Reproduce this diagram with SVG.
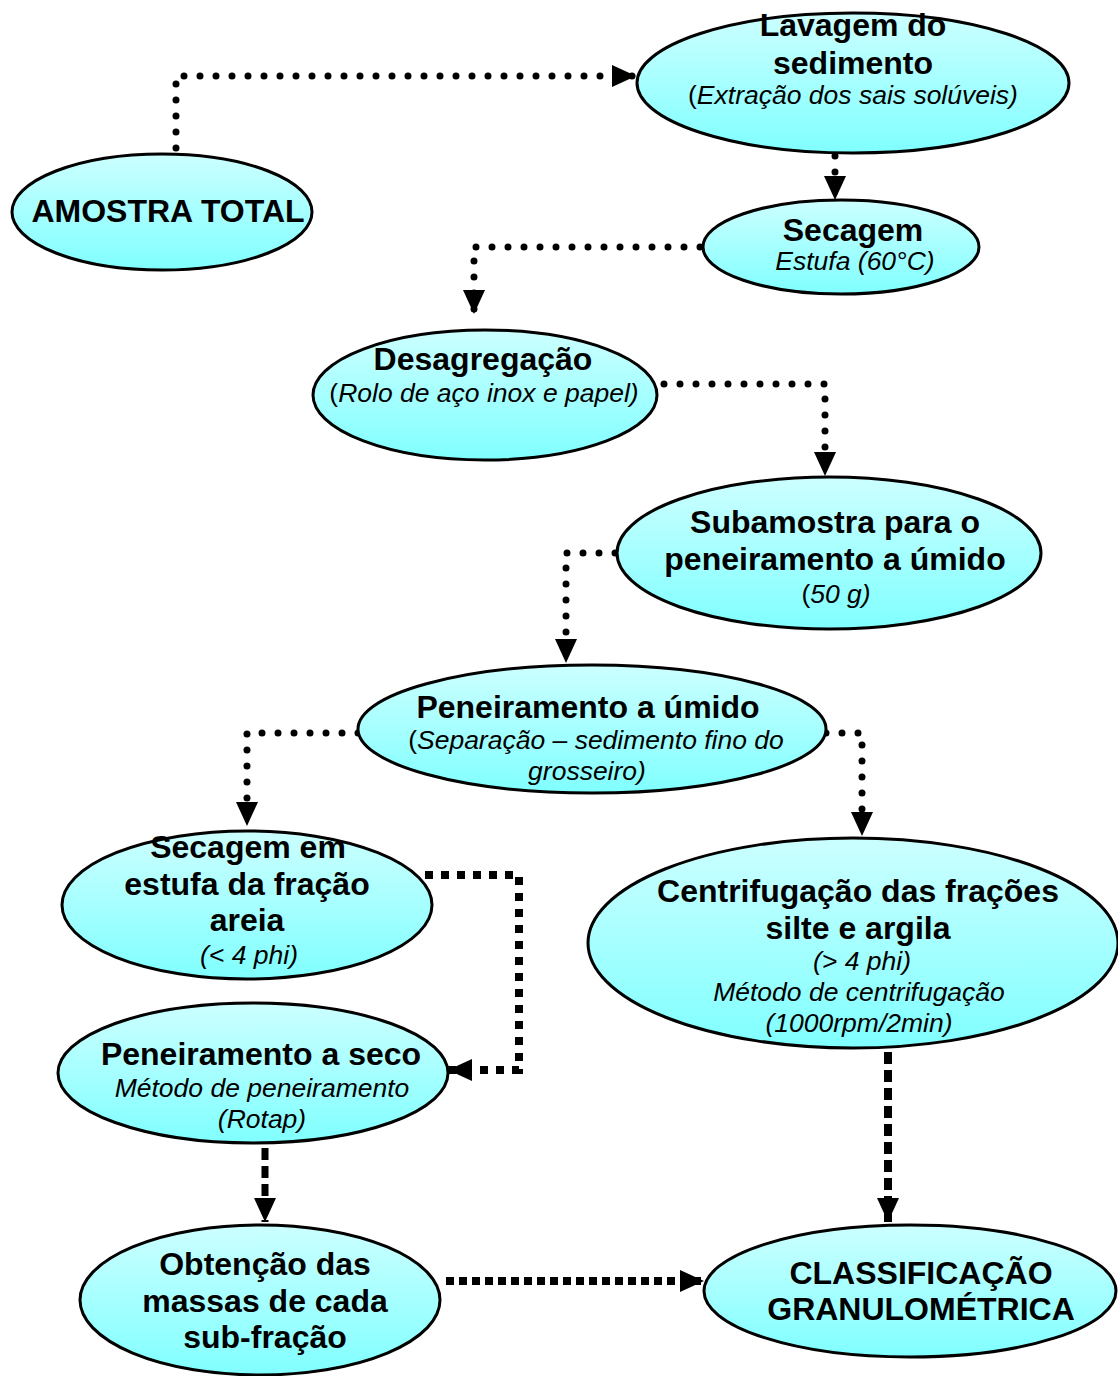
<svg xmlns="http://www.w3.org/2000/svg" width="1118" height="1376" viewBox="0 0 1118 1376">
<defs>
<linearGradient id="g" x1="0" y1="0" x2="0" y2="1">
<stop offset="0" stop-color="#ccffff"/>
<stop offset="1" stop-color="#80ffff"/>
</linearGradient>
<marker id="ah" viewBox="0 0 24 22" refX="24" refY="11" markerWidth="24" markerHeight="22" markerUnits="userSpaceOnUse" orient="auto">
<path d="M0,0 L24,11 L0,22 z" fill="#000"/>
</marker>
<style>
.n{fill:url(#g);stroke:#000;stroke-width:3}
.b{font-family:"Liberation Sans",Arial,sans-serif;font-weight:bold;font-size:32px;text-anchor:middle;fill:#000}
.i{font-family:"Liberation Sans",Arial,sans-serif;font-style:italic;font-size:26.5px;text-anchor:middle;fill:#000}
.u{font-style:normal}
.dot{fill:none;stroke:#000;stroke-width:7;stroke-dasharray:0 16;stroke-linecap:round;stroke-linejoin:round;marker-end:url(#ah)}
.sq{fill:none;stroke:#000;stroke-width:8;stroke-dasharray:8 8;marker-end:url(#ah)}
.da{fill:none;stroke:#000;stroke-width:7;stroke-dasharray:12 6;marker-end:url(#ah)}
</style>
</defs>
<rect width="1118" height="1376" fill="#fff"/>
<g id="connectors">
<path class="dot" d="M176,148 L176,76 L636,76"/>
<path class="dot" d="M835,156 L835,200"/>
<circle cx="835" cy="141" r="3.5" fill="#2a9a9a"/>
<path class="dot" d="M700,247 L474,247 L474,314"/>
<path class="dot" d="M664,384 L825,384 L825,476"/>
<path class="dot" d="M615,553 L566,553 L566,663"/>
<path class="dot" d="M358,733 L247,733 L247,826"/>
<path class="dot" d="M826,733 L862,733 L862,836"/>
<path class="sq" d="M425,875 L519,875 L519,1070 L448,1070"/>
<path class="da" d="M265,1148 L265,1222"/>
<path class="da" style="stroke-width:8" d="M888,1052 L888,1222"/>
<path class="sq" style="stroke-dasharray:8 5" d="M446,1281 L704,1281"/>
</g>
<g id="lavagem">
<ellipse class="n" cx="853" cy="83" rx="216" ry="70"/>
<text class="b" x="853" y="36">Lavagem do</text>
<text class="b" x="853" y="74">sedimento</text>
<text class="i" x="853" y="104"><tspan class="u">(</tspan>Extração dos sais solúveis)</text>
</g>
<g id="amostra">
<ellipse class="n" cx="162" cy="212" rx="150" ry="58"/>
<text class="b" x="168" y="222">AMOSTRA TOTAL</text>
</g>
<g id="secagem">
<ellipse class="n" cx="841" cy="247" rx="138" ry="47"/>
<text class="b" x="853" y="241">Secagem</text>
<text class="i" x="855" y="270">Estufa (60°C)</text>
</g>
<g id="desagregacao">
<ellipse class="n" cx="485" cy="395" rx="172" ry="65"/>
<text class="b" x="483" y="370">Desagregação</text>
<text class="i" x="484" y="402"><tspan class="u">(</tspan>Rolo de aço inox e papel)</text>
</g>
<g id="subamostra">
<ellipse class="n" cx="829" cy="553" rx="212" ry="76"/>
<text class="b" x="835" y="533">Subamostra para o</text>
<text class="b" x="835" y="570">peneiramento a úmido</text>
<text class="i" x="836" y="603"><tspan class="u">(</tspan>50 g)</text>
</g>
<g id="peneiramento-umido">
<ellipse class="n" cx="592" cy="729" rx="234" ry="64"/>
<text class="b" x="588" y="718">Peneiramento a úmido</text>
<text class="i" x="596" y="749"><tspan class="u">(</tspan>Separação – sedimento fino do</text>
<text class="i" x="587" y="780">grosseiro)</text>
</g>
<g id="secagem-estufa">
<ellipse class="n" cx="247" cy="905" rx="185" ry="74"/>
<text class="b" x="248" y="858">Secagem em</text>
<text class="b" x="247" y="895">estufa da fração</text>
<text class="b" x="247" y="931">areia</text>
<text class="i" x="249" y="964">(&lt; 4 phi)</text>
</g>
<g id="centrifugacao">
<ellipse class="n" cx="853" cy="943" rx="265" ry="105"/>
<text class="b" x="858" y="902">Centrifugação das frações</text>
<text class="b" x="858" y="939">silte e argila</text>
<text class="i" x="862" y="970">(&gt; 4 phi)</text>
<text class="i" x="859" y="1001">Método de centrifugação</text>
<text class="i" x="859" y="1032">(1000rpm/2min)</text>
</g>
<g id="peneiramento-seco">
<ellipse class="n" cx="253" cy="1073" rx="195" ry="70"/>
<text class="b" x="261" y="1065">Peneiramento a seco</text>
<text class="i" x="262" y="1097">Método de peneiramento</text>
<text class="i" x="262" y="1128">(Rotap)</text>
</g>
<g id="obtencao">
<ellipse class="n" cx="260" cy="1300" rx="180" ry="75"/>
<text class="b" x="265" y="1275">Obtenção das</text>
<text class="b" x="265" y="1312">massas de cada</text>
<text class="b" x="265" y="1348">sub-fração</text>
</g>
<g id="classificacao">
<ellipse class="n" cx="910" cy="1291" rx="206" ry="66"/>
<text class="b" x="921" y="1284">CLASSIFICAÇÃO</text>
<text class="b" x="921" y="1320">GRANULOMÉTRICA</text>
</g>
</svg>
